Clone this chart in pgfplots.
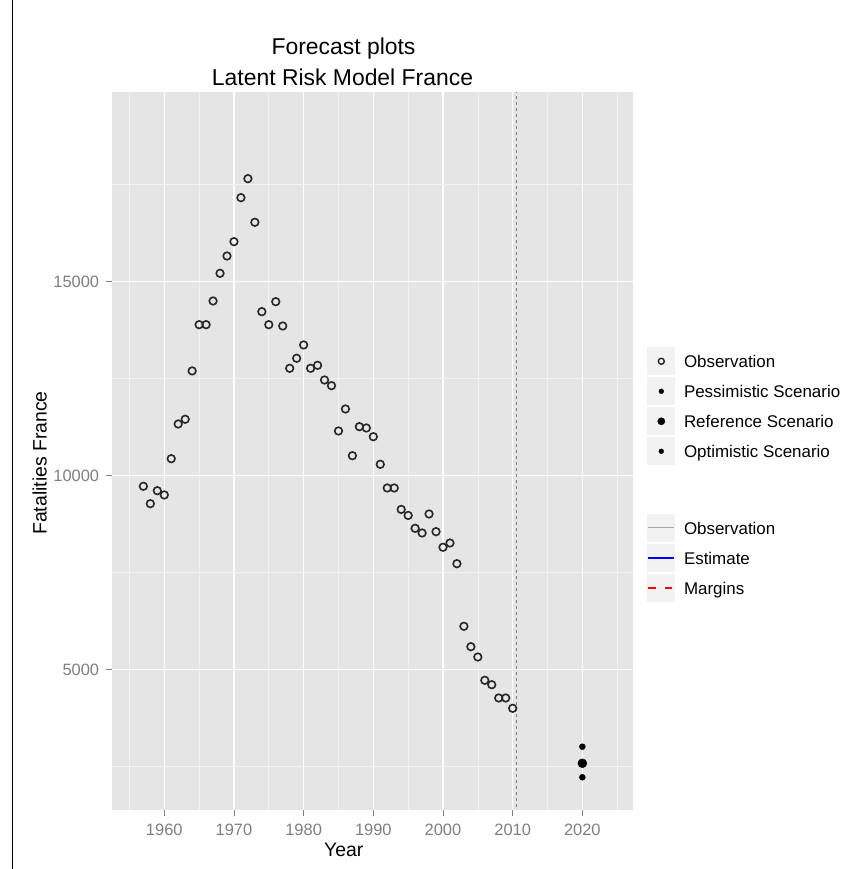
\documentclass[border=0pt]{standalone}
\usepackage{pgfplots}
\pgfplotsset{compat=1.18}
\usepackage{pgfplotstable}
\usepackage{fontspec}
\setmainfont{Liberation Sans}
\definecolor{panelbg}{HTML}{E5E5E5}
\definecolor{minorgrid}{HTML}{F2F2F2}
\definecolor{grey50}{HTML}{7F7F7F}
\definecolor{keybg}{HTML}{F2F2F2}
\definecolor{obsline}{HTML}{A6A6A6}
\definecolor{mk}{HTML}{262626}

\pgfplotstableread{
year value
1957 9727
1958 9278
1959 9613
1960 9503
1961 10438
1962 11332
1963 11454
1964 12700
1965 13892
1966 13892
1967 14503
1968 15216
1969 15662
1970 16031
1971 17165
1972 17655
1973 16531
1974 14227
1975 13892
1976 14485
1977 13858
1978 12768
1979 13026
1980 13369
1981 12768
1982 12845
1983 12466
1984 12320
1985 11152
1986 11719
1987 10515
1988 11263
1989 11229
1990 11005
1991 10294
1992 9683
1993 9683
1994 9131
1995 8976
1996 8644
1997 8523
1998 9013
1999 8557
2000 8155
2001 8265
2002 7732
2003 6119
2004 5593
2005 5327
2006 4727
2007 4613
2008 4271
2009 4271
2010 4005
}\obs

\pgfplotstableread{
year value
2020 3015
}\pess
\pgfplotstableread{
year value
2020 2588
}\refsc
\pgfplotstableread{
year value
2020 2227
}\opt

\pgfplotsset{
  keypoint/.style={legend image code/.code={%
     \path[draw=none, fill=none] (0bp,-15bp) rectangle (37.7bp,15bp);
     \path[draw=none, fill=keybg] (1bp,-14bp) rectangle (29bp,14bp);
     \path[draw=none, fill=none, #1] plot coordinates {(15bp,0bp)};}},
  keyline/.style={legend image code/.code={%
     \path[draw=none, fill=none] (0bp,-15bp) rectangle (37.7bp,15bp);
     \path[draw=none, fill=keybg] (1bp,-14bp) rectangle (29bp,14bp);
     \path[fill=none, #1] (2bp,0bp) -- (28bp,0bp);}},
  mylegend/.style={legend style={anchor=north west, draw=none, fill=none,
     inner sep=0pt, outer sep=0pt, row sep=0pt, column sep=0pt,
     font=\fontsize{17}{17}\selectfont,
     nodes={inner sep=0pt, text depth=0pt}, cells={anchor=west}}},
  panel/.style={at={(112.3bp,59bp)}, anchor=south west,
     width=520.7bp, height=717.7bp, scale only axis},
}

\begin{document}
\begin{tikzpicture}
\begin{axis}[
  panel,
  xmin=1952.54, xmax=2027.27, ymin=1384, ymax=19881,
  axis background/.style={fill=panelbg},
  axis line style={draw=none},
  xtick={1960,1970,...,2020}, minor xtick={1955,1965,...,2025},
  ytick={5000,10000,15000}, minor ytick={2500,7500,12500,17500},
  grid=both,
  major grid style={white, line width=1.1bp},
  minor grid style={minorgrid, line width=0.6bp},
  tick align=outside, tick pos=left,
  major tick length=6.5bp, minor tick length=0pt,
  tick style={grey50, line width=0.9bp},
  scaled ticks=false,
  /pgf/number format/1000 sep={},
  /pgf/number format/assume math mode=true,
  tick label style={font=\fontsize{16.5}{16.5}\selectfont, text=grey50, inner sep=0pt},
  xticklabel style={anchor=base, yshift=-19.2bp},
  yticklabel style={anchor=east, xshift=-6.5bp},
  mylegend,
  legend style={at={(1.02554,0.6461)}},
]
\addplot[forget plot, grey50, dash pattern=on 3bp off 3bp, line width=0.7bp]
  coordinates {(2010.5,1000) (2010.5,21000)};
\addplot[forget plot, only marks, mark=o, mark size=3.8bp,
  mark options={line width=1.6bp, draw=mk}]
  table[x=year, y=value] {\obs};
\addplot[forget plot, only marks, mark=*, mark size=3bp, black]
  table[x=year, y=value] {\pess};
\addplot[forget plot, only marks, mark=*, mark size=4.5bp, black]
  table[x=year, y=value] {\refsc};
\addplot[forget plot, only marks, mark=*, mark size=3bp, black]
  table[x=year, y=value] {\opt};

\addlegendimage{keypoint={mark=o, mark size=3bp, mark options={draw=mk, fill=none, line width=1.4bp}}}
\addlegendentry{Observation}
\addlegendimage{keypoint={mark=*, mark size=2.4bp, mark options={draw=black, fill=black}}}
\addlegendentry{Pessimistic Scenario}
\addlegendimage{keypoint={mark=*, mark size=3.6bp, mark options={draw=black, fill=black}}}
\addlegendentry{Reference Scenario}
\addlegendimage{keypoint={mark=*, mark size=2.4bp, mark options={draw=black, fill=black}}}
\addlegendentry{Optimistic Scenario}
\end{axis}

\begin{axis}[
  panel, hide axis,
  xmin=0, xmax=1, ymin=0, ymax=1,
  mylegend,
  legend style={at={(1.02554,0.41382)}},
]
\addlegendimage{keyline={draw=obsline, solid, line width=1bp}}
\addlegendentry{Observation}
\addlegendimage{keyline={draw=blue, solid, line width=1.2bp}}
\addlegendentry{Estimate}
\addlegendimage{keyline={draw=red, dash pattern=on 7.5bp off 9bp, line width=1.2bp}}
\addlegendentry{Margins}
\end{axis}

\node[anchor=base, font=\fontsize{23}{23}\selectfont] at (343.5bp,814.7bp) {Forecast plots};
\node[anchor=base, font=\fontsize{23}{23}\selectfont] at (342.5bp,783.3bp) {Latent Risk Model France};
\node[anchor=base, font=\fontsize{19.5}{19.5}\selectfont] at (343.7bp,13bp) {Year};
\node[anchor=base, rotate=90, font=\fontsize{19.5}{19.5}\selectfont] at (46.5bp,406bp) {Fatalities France};
\draw[line width=1.5bp] (12.7bp,0bp) -- (12.7bp,869bp);
\pgfresetboundingbox
\path[use as bounding box] (0bp,0bp) rectangle (844bp,869bp);
\end{tikzpicture}
\end{document}
